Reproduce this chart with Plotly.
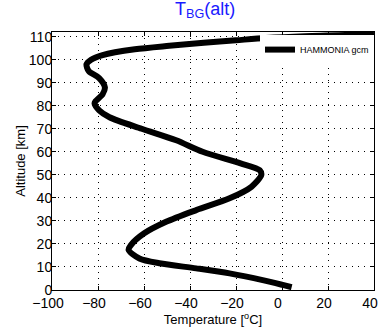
import plotly.graph_objects as go

# Data: temperature profile (HAMMONIA gcm)
altitude_km = [1.2, 2.2, 4.3, 7.2, 9.4, 11.6, 13.7, 17.4, 19.5, 24.6, 29.6, 34.7,
               39.8, 44.8, 49.9, 52, 55, 60, 65, 70, 75, 78, 81, 82, 85, 88, 92, 95,
               98, 100, 102, 104.5, 106, 107.3, 108.4, 109.4, 110.2, 111]
temperature_c = [4.2, 0.3, -8.4, -22.8, -37.3, -53.3, -62, -66.7, -65.7, -59.9, -50.4, -37.3,
                 -22.8, -13.3, -9, -9.7, -18, -34.5, -46, -61, -75, -79.5, -81.5, -81, -78, -77, -79.5, -84,
                 -85, -83, -78, -64, -49, -34, -20, -7, 10, 40]

x_ticks = [-100, -80, -60, -40, -20, 0, 20, 40]
y_ticks = [0, 10, 20, 30, 40, 50, 60, 70, 80, 90, 100, 110]
series_name = "HAMMONIA gcm"
title_text = "T<sub>BG</sub>(alt)"

FONT = "Liberation Sans, Arial, Helvetica, sans-serif"

fig = go.Figure()
fig.add_trace(go.Scatter(
    x=temperature_c, y=altitude_km, mode="lines", name=series_name,
    line=dict(color="black", width=6, shape="spline", smoothing=0.8),
    showlegend=True,
))

axis_common = dict(
    showline=True, linecolor="black", linewidth=1, mirror="ticks",
    ticks="inside", ticklen=4, tickcolor="black", tickwidth=1,
    showgrid=True, gridcolor="black", gridwidth=1, griddash="1px,5px",
    zeroline=False, automargin=False,
    tickfont=dict(family=FONT, size=14, color="black"),
)

fig.update_layout(
    width=382, height=328,
    margin=dict(l=52, r=8, t=32, b=38),
    paper_bgcolor="white", plot_bgcolor="white",
    font=dict(family=FONT, color="black"),
    title=dict(text=title_text, x=0.537, xanchor="center", y=0.975, yanchor="middle",
               font=dict(family=FONT, size=18, color="#1a1aff")),
    xaxis=dict(range=[-100, 40], tickvals=x_ticks, ticklabelshift=-4,
               title=dict(text="Temperature [<sup>o</sup>C]", standoff=0,
                          font=dict(family=FONT, size=13)),
               **axis_common),
    yaxis=dict(range=[0, 112], tickvals=y_ticks, ticklabelstandoff=-4,
               title=dict(text="Altitude [km]", standoff=0,
                          font=dict(family=FONT, size=13)),
               **axis_common),
    legend=dict(x=1, xanchor="right", y=0.988, yanchor="top",
                bgcolor="white", borderwidth=0, font=dict(family=FONT, size=9),
                itemwidth=30, tracegroupgap=0),
    showlegend=True,
)

fig.write_html("out.html", config={"displayModeBar": False},
               post_script="document.body.style.margin='0';document.body.style.padding='0';")
